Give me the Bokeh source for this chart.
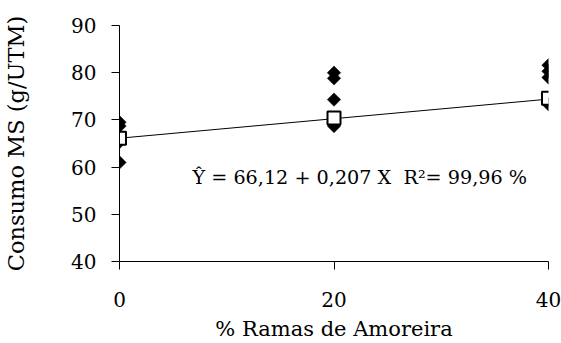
import numpy as np
from bokeh.plotting import figure
from bokeh.models import Range1d, FixedTicker, Label
from bokeh.embed import file_html
from bokeh.resources import INLINE

# Data
levels = [0, 20, 40]
obs_x = [0, 0, 0, 0, 20, 20, 20, 20, 40, 40, 40, 40]
obs_y = [69.5, 68.7, 65.3, 61.0, 80.0, 78.8, 74.3, 68.7, 81.6, 80.3, 79.0, 73.3]
mean_y = [66.1, 70.4, 74.6]
intercept = 66.12
slope = 0.207
y_ticks = [40, 50, 60, 70, 80, 90]
x_ticks = [0, 20, 40]
equation = "Ŷ = 66,12 + 0,207 X\u00a0\u00a0R²= 99,96 %"
x_title = "% Ramas de Amoreira"
y_title = "Consumo MS (g/UTM)"

FONT = "DejaVu Serif"

p = figure(width=561, height=343, output_backend="svg", toolbar_location=None,
           x_range=Range1d(0, 40), y_range=Range1d(40, 90),
           min_border_left=119, min_border_right=13, min_border_top=25, min_border_bottom=81)
p.outline_line_color = None
p.xgrid.grid_line_color = None
p.ygrid.grid_line_color = None
p.background_fill_color = "white"
p.border_fill_color = "white"

# axes
p.yaxis.ticker = FixedTicker(ticks=y_ticks)
p.xaxis.ticker = FixedTicker(ticks=x_ticks)
for ax in (p.xaxis, p.yaxis):
    ax.axis_line_color = "black"
    ax.major_tick_line_color = "black"
    ax.minor_tick_line_color = None
    ax.major_tick_in = 0
    ax.major_tick_out = 8
    ax.major_label_text_font = FONT
    ax.major_label_text_font_size = "20px"
    ax.major_label_text_color = "black"
    ax.axis_label_text_font = FONT
    ax.axis_label_text_font_style = "normal"
    ax.axis_label_text_color = "black"
p.xaxis.axis_label_text_font_size = "21px"
p.yaxis.axis_label_text_font_size = "22.5px"
p.yaxis.major_label_standoff = 15
p.xaxis.major_label_standoff = 22
p.xaxis.axis_label = x_title
p.yaxis.axis_label = y_title
p.yaxis.axis_label_standoff = 39
p.xaxis.axis_label_standoff = 7

# regression line
xl = np.array([levels[0], levels[-1]], dtype=float)
p.line(xl, intercept + slope * xl, line_color="black", line_width=1)

# observations (black diamonds)
p.scatter(obs_x, obs_y, marker="square", angle=np.pi / 4, size=9.5,
          fill_color="black", line_color="black", line_width=0.5)

# means (open squares)
p.scatter(levels, mean_y, marker="square", size=13, fill_color="white",
          line_color="black", line_width=2)

p.add_layout(Label(x=22.4, y=57.7, text=equation, text_font=FONT,
                   text_font_size="19.2px", text_color="black",
                   text_align="center", text_baseline="middle"))

open("out.html", "w").write(file_html(p, INLINE))
